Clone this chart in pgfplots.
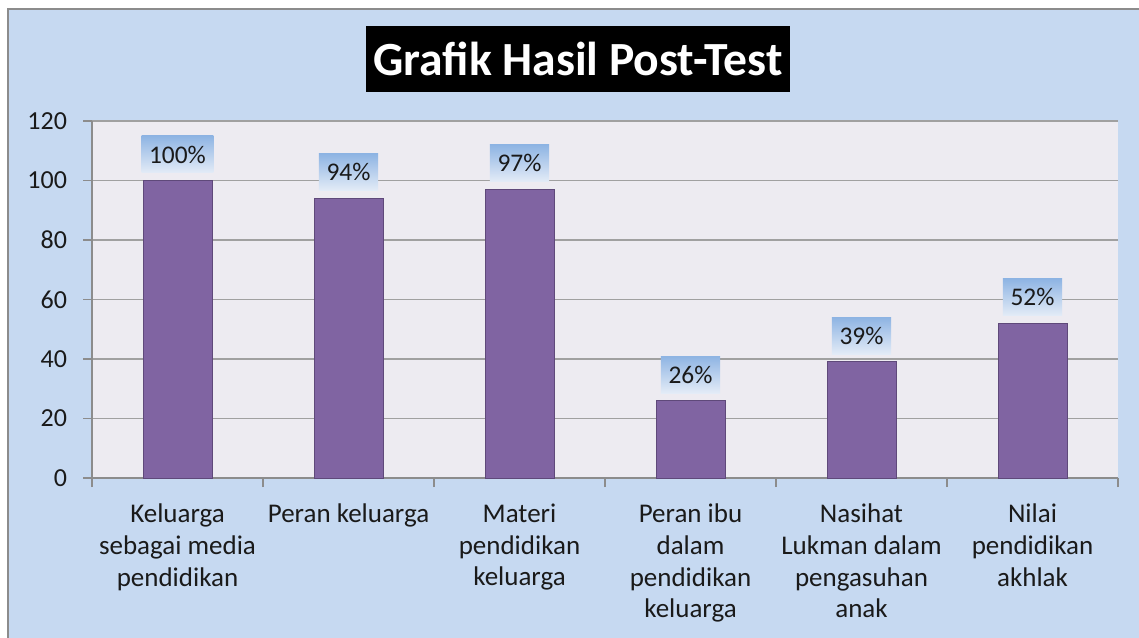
\documentclass[border=0pt]{standalone}
\usepackage{fontspec}
\setmainfont{Carlito}
\usepackage{pgfplots}
\pgfplotsset{compat=1.18}
\definecolor{chartbg}{HTML}{C6D9F1}
\definecolor{plotbg}{HTML}{EDEBF1}
\definecolor{barfill}{HTML}{8064A2}
\definecolor{baredge}{HTML}{5F497A}
\definecolor{gridc}{HTML}{A0A0A0}
\definecolor{axisc}{HTML}{8C8C8C}
\definecolor{lbltop}{HTML}{8EB4E3}
\definecolor{lblbot}{HTML}{E4ECF7}
\definecolor{textc}{HTML}{1A1A1A}
\begin{document}
\begin{tikzpicture}
\path[use as bounding box] (0,0) rectangle (569.5pt,318.5pt);
\clip (0,0) rectangle (569.5pt,318.5pt);
\fill[white] (0,0) rectangle (569.5pt,318.5pt);
\fill[chartbg] (4pt,-5pt) rectangle (575pt,314pt);
\draw[axisc, line width=1pt] (4pt,-5pt) -- (4pt,314pt) -- (575pt,314pt);
\begin{axis}[
  at={(46pt,79.5pt)}, anchor=south west,
  scale only axis, width=513pt, height=178.5pt,
  xmin=0.5, xmax=6.5, ymin=0, ymax=120,
  ybar, bar width=34.5pt,
  axis background/.style={fill=plotbg},
  axis x line*=bottom, axis y line*=left,
  axis line style={axisc, line width=0.75pt, -},
  xtick={0.5,1.5,...,6.5}, x tick label as interval,
  xticklabels={{Keluarga\\sebagai media\\pendidikan},{Peran keluarga},{Materi\\pendidikan\\keluarga},{Peran ibu\\dalam\\pendidikan\\keluarga},{Nasihat\\Lukman dalam\\pengasuhan\\anak},{Nilai\\pendidikan\\akhlak}},
  xticklabel style={align=center, font=\fontsize{13.5}{15.8}\selectfont, text=textc, anchor=north, yshift=-5pt},
  ytick={0,20,...,120},
  yticklabel style={font=\fontsize{13}{15}\selectfont, text=textc, xshift=-4.5pt},
  /pgf/number format/assume math mode=true,
  ymajorgrids, major grid style={gridc, line width=0.6pt},
  tick style={axisc, line width=0.6pt},
  tick align=outside, major tick length=4.5pt,
  nodes near coords={\pgfmathprintnumber{\pgfplotspointmeta}\%},
  every node near coord/.append style={font=\fontsize{12.7}{14}\selectfont, text=textc, top color=lbltop, bottom color=lblbot, minimum height=18.5pt, inner xsep=3.8pt, inner ysep=0pt, anchor=south, yshift=3.5pt},
]
\addplot[fill=barfill, draw=baredge, line width=0.5pt] coordinates {(1,100) (2,94) (3,97) (4,26) (5,39) (6,52)};
\end{axis}
\node[fill=black, text=white, minimum width=212pt, minimum height=33pt, inner sep=0pt, font=\fontsize{23.8}{28}\selectfont\bfseries] at (289pt,289pt) {Grafik Hasil Post-Test};
\end{tikzpicture}
\end{document}
